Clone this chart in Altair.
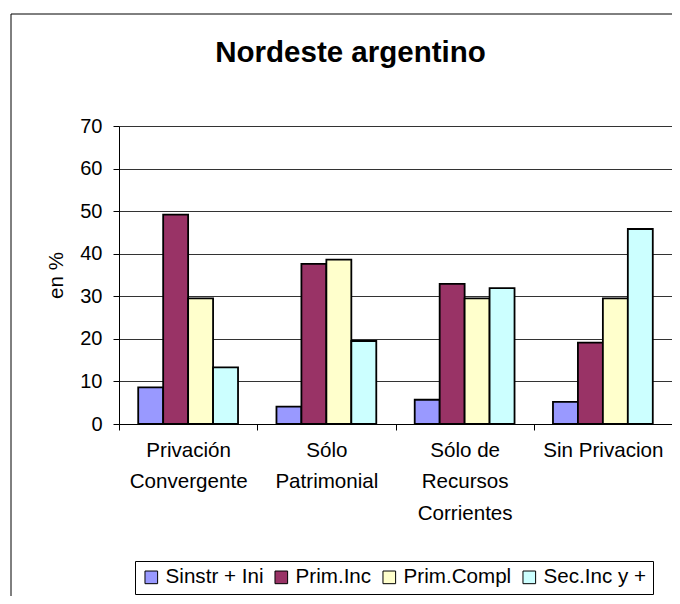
import altair as alt
import pandas as pd

# ---- data ----
categories = [
    "Privación\nConvergente",
    "Sólo\nPatrimonial",
    "Sólo de\nRecursos\nCorrientes",
    "Sin Privacion",
]
series = ["Sinstr + Ini", "Prim.Inc", "Prim.Compl", "Sec.Inc y +"]
sinstr_ini = [8.6, 4.1, 5.7, 5.2]
prim_inc = [49.2, 37.6, 32.9, 19.1]
prim_compl = [29.5, 38.6, 29.5, 29.5]
sec_inc = [13.3, 19.5, 31.9, 45.8]
y_ticks = [0, 10, 20, 30, 40, 50, 60, 70]
colors = ["#9999FF", "#993366", "#FFFFCC", "#CCFFFF"]

rows = []
for s, vals in zip(series, [sinstr_ini, prim_inc, prim_compl, sec_inc]):
    for c, v in zip(categories, vals):
        rows.append({"cat": c, "serie": s, "valor": v})
df = pd.DataFrame(rows)

FONT = "Liberation Sans"

frame = alt.Chart(pd.DataFrame({"k": [0]})).mark_rect(
    color="white", fillOpacity=0, stroke="black", strokeWidth=1
).encode(
    x=alt.value(-108), x2=alt.value(700), y=alt.value(-112), y2=alt.value(700)
)

bars = alt.Chart(df).mark_bar(stroke="black", strokeWidth=1.8).encode(
    x=alt.X(
        "cat:N",
        sort=categories,
        title=None,
        scale=alt.Scale(paddingInner=0, paddingOuter=0),
        axis=alt.Axis(
            labelAngle=0,
            labelExpr="split(datum.label, '\\n')",
            labelFont=FONT,
            labelFontSize=20.6,
            labelLineHeight=31.5,
            labelPadding=10,
            labelColor="black",
            tickBand="extent",
            tickSize=6,
            tickColor="black",
            domainColor="black",
            grid=False,
        ),
    ),
    xOffset=alt.XOffset(
        "serie:N", sort=series, scale=alt.Scale(paddingInner=0, paddingOuter=0.77)
    ),
    y=alt.Y(
        "valor:Q",
        title="en %",
        scale=alt.Scale(domain=[0, 70], nice=False),
        axis=alt.Axis(
            values=y_ticks,
            labelFont=FONT,
            labelFontSize=20,
            labelColor="black",
            labelPadding=11,
            tickSize=6,
            tickColor="black",
            domainColor="black",
            gridColor="#333333",
            gridWidth=1,
            titleFont=FONT,
            titleFontSize=20.6,
            titleFontWeight="normal",
            titleColor="black",
            titlePadding=13,
        ),
    ),
    color=alt.Color(
        "serie:N",
        sort=series,
        scale=alt.Scale(domain=series, range=colors),
        legend=alt.Legend(
            title=None,
            orient="none",
            legendX=16,
            legendY=435,
            direction="horizontal",
            symbolType="square",
            symbolSize=160,
            symbolStrokeColor="black",
            symbolStrokeWidth=1,
            symbolOpacity=1,
            labelFont=FONT,
            labelFontSize=20.6,
            labelColor="black",
            labelOffset=4,
            columnPadding=7,
            padding=6,
            strokeColor="black",
            fillColor="white",
        ),
    ),
)

chart = alt.layer(frame, bars).properties(
    width=553,
    height=298,
    autosize=alt.AutoSizeParams(type="none"),
    padding={"left": 111, "top": 118, "right": 0, "bottom": 172},
    title=alt.TitleParams(
        "Nordeste argentino",
        font=FONT,
        fontSize=29.5,
        fontWeight="bold",
        color="black",
        anchor="middle",
        frame="group",
        dx=-45,
        baseline="alphabetic",
        offset=0,
        dy=78,
    ),
).configure_view(stroke="black", strokeWidth=1).configure(background="white")

chart.save("out.html", embed_options={"renderer": "svg", "actions": False})
